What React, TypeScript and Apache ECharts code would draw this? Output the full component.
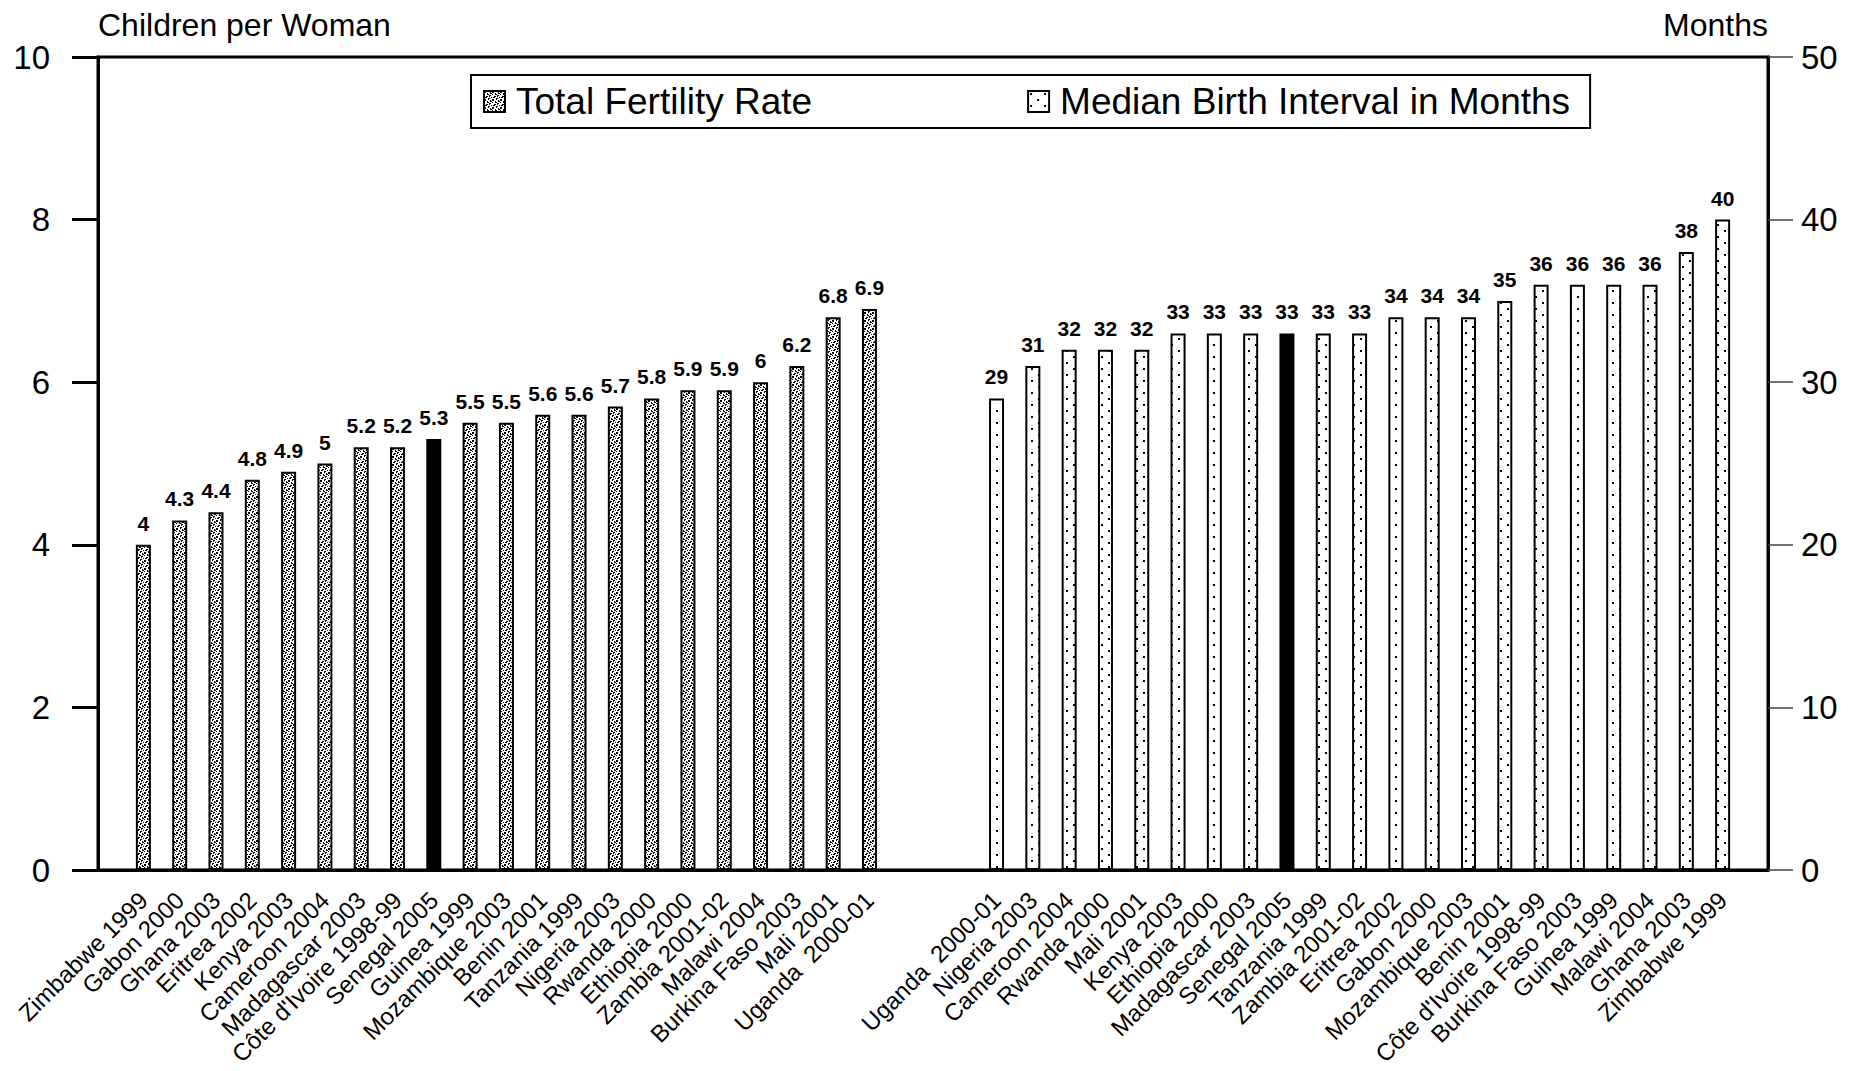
import React, { useEffect, useRef } from "react";
import * as echarts from "echarts";

// ---- Data ----
const tfrCountries = [
  "Zimbabwe 1999", "Gabon 2000", "Ghana 2003", "Eritrea 2002", "Kenya 2003",
  "Cameroon 2004", "Madagascar 2003", "Côte d'Ivoire 1998-99", "Senegal 2005",
  "Guinea 1999", "Mozambique 2003", "Benin 2001", "Tanzania 1999", "Nigeria 2003",
  "Rwanda 2000", "Ethiopia 2000", "Zambia 2001-02", "Malawi 2004",
  "Burkina Faso 2003", "Mali 2001", "Uganda  2000-01",
];
const tfrValues = [
  4, 4.3, 4.4, 4.8, 4.9, 5, 5.2, 5.2, 5.3, 5.5, 5.5, 5.6, 5.6, 5.7, 5.8, 5.9, 5.9,
  6, 6.2, 6.8, 6.9,
];
const intervalCountries = [
  "Uganda  2000-01", "Nigeria 2003", "Cameroon 2004", "Rwanda 2000", "Mali 2001",
  "Kenya 2003", "Ethiopia 2000", "Madagascar 2003", "Senegal 2005", "Tanzania 1999",
  "Zambia 2001-02", "Eritrea 2002", "Gabon 2000", "Mozambique 2003", "Benin 2001",
  "Côte d'Ivoire 1998-99", "Burkina Faso 2003", "Guinea 1999", "Malawi 2004",
  "Ghana 2003", "Zimbabwe 1999",
];
const intervalValues = [
  29, 31, 32, 32, 32, 33, 33, 33, 33, 33, 33, 34, 34, 34, 35, 36, 36, 36, 36, 38, 40,
];
const highlightCountry = "Senegal 2005";
const seriesNames = ["Total Fertility Rate", "Median Birth Interval in Months"];
const axisNames = ["Children per Woman", "Months"];

// ---- Layout of category slots (half-width slots so the gap between groups fits) ----
const SLOT_COUNT = 92;
const LEFT_START = 2;
const RIGHT_START = 49;
const STEP = 2;

const FONT = "'Liberation Sans', Arial, Helvetica, sans-serif";

function buildSlots() {
  const labels: string[] = new Array(SLOT_COUNT).fill("");
  const tfr: any[] = new Array(SLOT_COUNT).fill(null);
  const interval: any[] = new Array(SLOT_COUNT).fill(null);
  tfrCountries.forEach((c, i) => {
    const s = LEFT_START + i * STEP;
    labels[s] = c;
    tfr[s] =
      c === highlightCountry
        ? { value: tfrValues[i], itemStyle: { color: "#000" } }
        : tfrValues[i];
  });
  intervalCountries.forEach((c, i) => {
    const s = RIGHT_START + i * STEP;
    labels[s] = c;
    interval[s] =
      c === highlightCountry
        ? { value: intervalValues[i], itemStyle: { color: "#000" } }
        : intervalValues[i];
  });
  return { labels, tfr, interval };
}

function makeConfetti(): HTMLCanvasElement {
  const rows = [
    "11001000",
    "11000010",
    "00010011",
    "10011000",
    "00000110",
    "00110100",
    "01100001",
    "00001100",
  ];
  const c = document.createElement("canvas");
  c.width = 8;
  c.height = 8;
  const ctx = c.getContext("2d")!;
  ctx.fillStyle = "#fff";
  ctx.fillRect(0, 0, 8, 8);
  ctx.fillStyle = "#000";
  rows.forEach((r, y) =>
    r.split("").forEach((ch, x) => {
      if (ch === "1") ctx.fillRect(x, y, 1, 1);
    })
  );
  return c;
}

function makeDots(): HTMLCanvasElement {
  const c = document.createElement("canvas");
  c.width = 14;
  c.height = 12;
  const ctx = c.getContext("2d")!;
  ctx.fillStyle = "#fff";
  ctx.fillRect(0, 0, 14, 12);
  ctx.fillStyle = "#000";
  ctx.fillRect(2, 2, 2, 2);
  ctx.fillRect(9, 8, 2, 2);
  return c;
}

export default function App() {
  const ref = useRef<HTMLDivElement>(null);

  useEffect(() => {
    if (!ref.current) return;
    const chart = echarts.init(ref.current, null, { renderer: "svg" });
    const { labels, tfr, interval } = buildSlots();
    const confetti = makeConfetti();
    const dots = makeDots();

    const valueLabel = {
      show: true,
      position: "top",
      distance: 11,
      fontSize: 21,
      fontWeight: "bold",
      color: "#000",
      fontFamily: FONT,
    };

    const option: any = {
      animation: false,
      backgroundColor: "#fff",
      textStyle: { fontFamily: FONT },
      legend: {
        left: 471,
        top: 75,
        orient: "horizontal",
        padding: [8, 20, 8, 12],
        itemGap: 215,
        itemWidth: 21,
        itemHeight: 21,
        icon: "rect",
        borderColor: "#000",
        borderWidth: 2,
        backgroundColor: "#fff",
        textStyle: { fontSize: 37, color: "#000", fontFamily: FONT, padding: [0, 0, 0, 6] },
        data: seriesNames,
      },
      grid: {
        left: 98,
        right: 90,
        top: 57,
        bottom: 201,
        show: true,
        borderColor: "#000",
        borderWidth: 3,
      },
      xAxis: {
        type: "category",
        data: labels,
        boundaryGap: true,
        axisLine: { lineStyle: { color: "#000", width: 3 } },
        axisTick: { show: false },
        axisLabel: {
          interval: 0,
          rotate: 45,
          fontSize: 24,
          color: "#000",
          margin: 26,
          fontFamily: FONT,
        },
      },
      yAxis: [
        {
          type: "value",
          min: 0,
          max: 10,
          interval: 2,
          position: "left",
          name: axisNames[0],
          nameLocation: "end",
          nameGap: 16,
          nameTextStyle: {
            align: "left",
            verticalAlign: "bottom",
            fontSize: 32,
            color: "#000",
            fontFamily: FONT,
          },
          axisLine: { show: true, lineStyle: { color: "#000", width: 3 } },
          axisTick: { show: true, inside: false, length: 26, lineStyle: { color: "#000", width: 3 } },
          axisLabel: { fontSize: 33, color: "#000", margin: 48, fontFamily: FONT },
          splitLine: { show: false },
        },
        {
          type: "value",
          min: 0,
          max: 50,
          interval: 10,
          position: "right",
          name: axisNames[1],
          nameLocation: "end",
          nameGap: 16,
          nameTextStyle: {
            align: "right",
            verticalAlign: "bottom",
            fontSize: 32,
            color: "#000",
            fontFamily: FONT,
          },
          axisLine: { show: true, lineStyle: { color: "#000", width: 3 } },
          axisTick: { show: true, inside: false, length: 25, lineStyle: { color: "#444", width: 1.5 } },
          axisLabel: { fontSize: 33, color: "#000", margin: 33, fontFamily: FONT },
          splitLine: { show: false },
        },
      ],
      series: [
        {
          name: seriesNames[0],
          type: "bar",
          yAxisIndex: 0,
          data: tfr,
          barWidth: 15,
          barGap: "-100%",
          itemStyle: {
            color: { image: confetti, repeat: "repeat" },
            borderColor: "#000",
            borderWidth: 2,
          },
          label: valueLabel,
        },
        {
          name: seriesNames[1],
          type: "bar",
          yAxisIndex: 1,
          data: interval,
          barWidth: 15,
          barGap: "-100%",
          itemStyle: {
            color: { image: dots, repeat: "repeat" },
            borderColor: "#000",
            borderWidth: 2,
          },
          label: valueLabel,
        },
      ],
    };
    chart.setOption(option);
    return () => chart.dispose();
  }, []);

  return (
    <div
      ref={ref}
      style={{
        position: "absolute",
        left: 0,
        top: 0,
        width: 1858,
        height: 1071,
        background: "#fff",
      }}
    />
  );
}
